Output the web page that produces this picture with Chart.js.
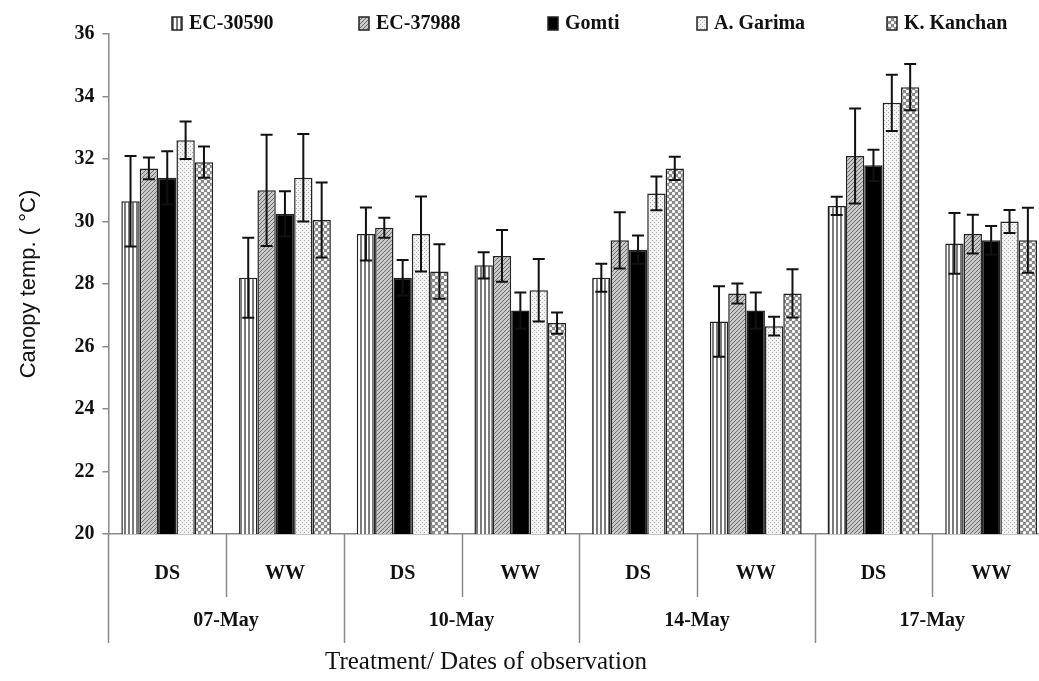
<!DOCTYPE html>
<html>
<head>
<meta charset="utf-8">
<script src="https://cdn.jsdelivr.net/npm/chart.js@4/dist/chart.umd.min.js"></script>
<style>
  html, body { margin: 0; padding: 0; background: #fff; overflow: hidden; }
  /* the printed plot runs a little past the right edge of the picture */
  #wrap { width: 1050px; height: 681px; }
</style>
</head>
<body>
<div id="wrap"><canvas id="chart"></canvas></div>
<script>
// Canopy temperature, DS / WW per observation date
const treatments = ['DS', 'WW', 'DS', 'WW', 'DS', 'WW', 'DS', 'WW'];
const dates = ['07-May', '10-May', '14-May', '17-May'];

const ec30590 = [30.65, 28.2, 29.6, 28.6, 28.2, 26.8, 30.5, 29.3];
const ec30590Err = [1.45, 1.28, 0.85, 0.42, 0.45, 1.13, 0.29, 0.97];
const ec37988 = [31.7, 31.0, 29.8, 28.9, 29.4, 27.7, 32.1, 29.6];
const ec37988Err = [0.35, 1.78, 0.32, 0.83, 0.9, 0.32, 1.52, 0.62];
const gomti = [31.4, 30.25, 28.2, 27.15, 29.1, 27.15, 31.8, 29.4];
const gomtiErr = [0.85, 0.72, 0.57, 0.58, 0.45, 0.58, 0.5, 0.46];
const garima = [32.6, 31.4, 29.6, 27.8, 30.9, 26.65, 33.8, 30.0];
const garimaErr = [0.6, 1.4, 1.2, 1.0, 0.54, 0.3, 0.9, 0.37];
const kanchan = [31.9, 30.05, 28.4, 26.75, 31.7, 27.7, 34.3, 29.4];
const kanchanErr = [0.5, 1.2, 0.87, 0.34, 0.37, 0.77, 0.74, 1.04];

const yTicks = [20, 22, 24, 26, 28, 30, 32, 34, 36];

// little fill patterns like the print figure
function makePattern(kind) {
  var c = document.createElement('canvas');
  var g = c.getContext('2d');
  if(kind === 'vstripe') {
    c.width = 4; c.height = 4;
    g.fillStyle = '#fff'; g.fillRect(0, 0, 4, 4);
    g.fillStyle = '#7a7a7a'; g.fillRect(0, 0, 2, 4);
  }
  else if(kind === 'diag') {
    c.width = 4; c.height = 4;
    g.fillStyle = '#c8c8c8'; g.fillRect(0, 0, 4, 4);
    g.fillStyle = '#6e6e6e';
    for(var i = 0; i < 4; i++) g.fillRect(i, 3 - i, 1, 1);
  }
  else if(kind === 'dots') {
    c.width = 4; c.height = 4;
    g.fillStyle = '#f2f2f2'; g.fillRect(0, 0, 4, 4);
    g.fillStyle = '#b0b0b0'; g.fillRect(0, 0, 1, 1); g.fillRect(2, 2, 1, 1);
  }
  else if(kind === 'circles') {
    c.width = 6; c.height = 6;
    g.fillStyle = '#8a8a8a'; g.fillRect(0, 0, 6, 6);
    g.fillStyle = '#fff';
    g.beginPath(); g.arc(1.5, 1.5, 1.6, 0, Math.PI * 2); g.fill();
    g.beginPath(); g.arc(4.5, 4.5, 1.6, 0, Math.PI * 2); g.fill();
  }
  return g.createPattern(c, 'repeat');
}

const serif = "'Liberation Serif', 'Times New Roman', serif";
const sans = "'Liberation Sans', Arial, sans-serif";

function makeSet(label, data, err, fill) {
  return {
    label: label,
    data: data,
    err: err,
    backgroundColor: fill,
    borderColor: '#222',
    borderWidth: 1.5,
    borderSkipped: false,
    barPercentage: 1.0,
    categoryPercentage: 0.78
  };
}

const datasets = [
  makeSet('EC-30590', ec30590, ec30590Err, makePattern('vstripe')),
  makeSet('EC-37988', ec37988, ec37988Err, makePattern('diag')),
  makeSet('Gomti', gomti, gomtiErr, '#000'),
  makeSet('A. Garima', garima, garimaErr, makePattern('dots')),
  makeSet('K. Kanchan', kanchan, kanchanErr, makePattern('circles'))
];

// error bars, drawn through the y scale
const errorBars = {
  id: 'errorBars',
  afterDatasetsDraw(chart) {
    const ctx = chart.ctx;
    const y = chart.scales.y;
    ctx.save();
    ctx.strokeStyle = '#111';
    ctx.lineWidth = 2;
    chart.data.datasets.forEach(function(ds, di) {
      const meta = chart.getDatasetMeta(di);
      meta.data.forEach(function(bar, i) {
        const v = ds.data[i], e = ds.err[i];
        const top = y.getPixelForValue(v + e);
        const bot = y.getPixelForValue(v - e);
        ctx.beginPath();
        ctx.moveTo(bar.x, top); ctx.lineTo(bar.x, bot);
        ctx.moveTo(bar.x - 6, top); ctx.lineTo(bar.x + 6, top);
        ctx.moveTo(bar.x - 6, bot); ctx.lineTo(bar.x + 6, bot);
        ctx.stroke();
      });
    });
    ctx.restore();
  }
};

// separators of the two-level category axis (short: treatment, long: date)
const axisDividers = {
  id: 'axisDividers',
  afterDraw(chart) {
    const ctx = chart.ctx;
    const x = chart.scales.x;
    ctx.save();
    ctx.strokeStyle = '#8a8a8a';
    ctx.lineWidth = 1.5;
    for(var i = 0; i <= treatments.length; i++) {
      const px = Math.round(x.getPixelForValue(i - 0.5)) + 0.5;
      const len = (i % 2 === 0) ? 109 : 63;
      ctx.beginPath();
      ctx.moveTo(px, x.top);
      ctx.lineTo(px, x.top + len);
      ctx.stroke();
    }
    ctx.restore();
  }
};

// legend with the pattern swatches and the x title, placed like the figure
const legendLeft = [172, 359, 548, 697, 887];
const xTitle = 'Treatment/ Dates of observation';
const figureText = {
  id: 'figureText',
  afterDraw(chart) {
    const ctx = chart.ctx;
    ctx.save();
    ctx.font = 'bold 20px ' + serif;
    ctx.textBaseline = 'middle';
    chart.data.datasets.forEach(function(ds, i) {
      const lx = legendLeft[i];
      ctx.fillStyle = ds.backgroundColor;
      ctx.fillRect(lx, 17, 10, 13);
      ctx.strokeStyle = '#222';
      ctx.lineWidth = 1.5;
      ctx.strokeRect(lx, 17, 10, 13);
      ctx.fillStyle = '#111';
      ctx.fillText(ds.label, lx + 17, 24);
    });
    ctx.font = '25px ' + serif;
    ctx.textAlign = 'center';
    ctx.fillText(xTitle, 486, 662);
    ctx.restore();
  }
};

new Chart(document.getElementById('chart'), {
  type: 'bar',
  data: { labels: treatments, datasets: datasets },
  plugins: [errorBars, axisDividers, figureText],
  options: {
    responsive: true,
    maintainAspectRatio: false,
    animation: false,
    layout: { padding: { left: 16, right: 0, top: 34, bottom: 48 } },
    plugins: {
      tooltip: { enabled: false },
      legend: { display: false }
    },
    scales: {
      x: {
        type: 'category',
        position: 'bottom',
        weight: 0,
        offset: true,
        afterFit: function(scale) { scale.height = 52; },
        border: { display: true, color: '#8a8a8a', width: 1.5 },
        grid: { offset: true, drawOnChartArea: false, drawTicks: false },
        ticks: {
          color: '#111',
          autoSkip: false,
          maxRotation: 0,
          padding: 28,
          font: { family: serif, size: 20, weight: 'bold' }
        }
      },
      x2: {
        type: 'category',
        position: 'bottom',
        weight: 1,
        labels: dates,
        offset: true,
        afterFit: function(scale) { scale.height = 47; },
        border: { display: false },
        grid: { display: false, drawTicks: false },
        ticks: {
          color: '#111',
          autoSkip: false,
          maxRotation: 0,
          padding: 23,
          font: { family: serif, size: 20, weight: 'bold' }
        }
      },
      y: {
        min: 20,
        max: 36,
        afterBuildTicks: function(axis) {
          axis.ticks = yTicks.map(function(v) { return { value: v }; });
        },
        border: { display: true, color: '#8a8a8a', width: 1.5 },
        grid: { drawOnChartArea: false, drawTicks: true, tickLength: 6, color: '#8a8a8a', lineWidth: 1.5 },
        ticks: {
          color: '#111',
          padding: 8,
          font: { family: serif, size: 20, weight: 'bold' }
        },
        title: {
          display: true,
          text: 'Canopy temp. ( °C)',
          color: '#111',
          padding: { top: 0, bottom: 24 },
          font: { family: sans, size: 22 }
        }
      }
    }
  }
});
</script>
</body>
</html>
